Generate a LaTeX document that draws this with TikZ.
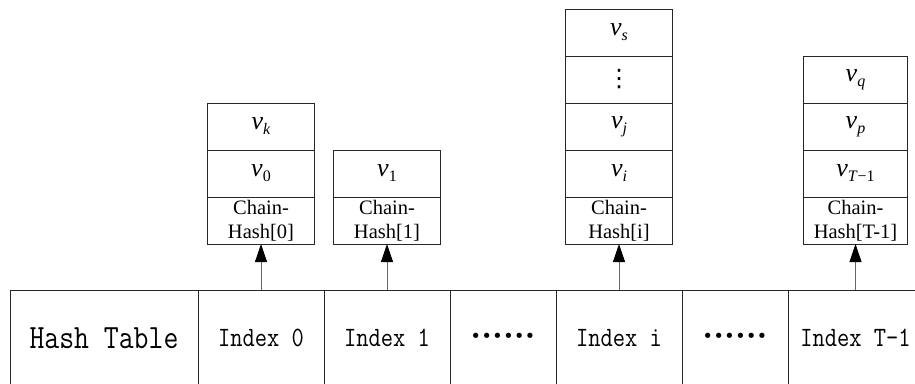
\documentclass[tikz,border=0pt]{standalone}
\usepackage{fontspec}
\setmainfont{Liberation Serif}
\newfontfamily\tabfont[FakeStretch=0.85]{Latin Modern Mono}
\newfontfamily\dotfont{DejaVu Sans Mono}
\newfontfamily\symfont{DejaVu Sans}
\usetikzlibrary{positioning}
\usetikzlibrary{arrows.meta}

\newcommand{\vsub}[1]{\textit{v}\raisebox{-5pt}{\fontsize{16}{16}\selectfont #1}}

\begin{document}
\begin{tikzpicture}[x=1pt,y=-1pt,line width=0.8pt,
	cell/.style={rectangle, draw=black!85, minimum height=96pt, inner sep=0pt, outer sep=0pt, font=\tabfont\fontsize{28}{28}\selectfont},
	gap/.style={cell, minimum width=106pt, font=\dotfont\fontsize{18}{18}\selectfont},
	link/.style={rectangle, draw=black!85, minimum width=107pt, minimum height=47pt, inner sep=0pt, outer sep=0pt, font=\fontsize{26}{26}\selectfont},
	head/.style={link, align=center, font=\fontsize{20.5}{24}\selectfont},
	up/.style={-{Triangle[length=18pt,width=12pt,color=black]}, draw=black!60}]
	
	\useasboundingbox (0,0) rectangle (915,383);
	
	% table row
	\node[cell, minimum width=188pt, font=\tabfont\fontsize{34}{34}\selectfont] (t) at (104,338) {Hash Table};
	\node[cell, minimum width=126pt] (i0) [right=0pt of t] {Index 0};
	\node[cell, minimum width=126pt] (i1) [right=0pt of i0] {Index 1};
	\node[gap] (d1) [right=0pt of i1] {••••••};
	\node[cell, minimum width=126pt] (ii) [right=0pt of d1] {Index i};
	\node[gap] (d2) [right=0pt of ii] {••••••};
	\node[cell, minimum width=135pt] (iT) [right=0pt of d2] {Index T-1};
	
	% chain 0
	\node[head] (c0) [above=46pt of i0] {Chain-\\Hash[0]};
	\node[link] (a0) [above=0pt of c0] {\vsub{0}};
	\node[link] (b0) [above=0pt of a0] {\vsub{\textit{k}}};
	
	% chain 1
	\node[head] (c1) [above=46pt of i1] {Chain-\\Hash[1]};
	\node[link] (a1) [above=0pt of c1] {\vsub{1}};
	
	% chain i
	\node[head] (ci) [above=46pt of ii] {Chain-\\Hash[i]};
	\node[link] (ai) [above=0pt of ci] {\vsub{\textit{i}}};
	\node[link] (bi) [above=0pt of ai] {\vsub{\textit{j}}};
	\node[link, font=\symfont\fontsize{24}{24}\selectfont] (di) [above=0pt of bi] {⋮};
	\node[link] (ei) [above=0pt of di] {\vsub{\textit{s}}};
	
	% chain T-1
	\node[head, minimum width=104pt] (cT) [above=46pt of iT] {Chain-\\Hash[T-1]};
	\node[link, minimum width=104pt] (aT) [above=0pt of cT] {\vsub{\textit{T}−1}};
	\node[link, minimum width=104pt] (bT) [above=0pt of aT] {\vsub{\textit{p}}};
	\node[link, minimum width=104pt] (eT) [above=0pt of bT] {\vsub{\textit{q}}};
	
	\draw[up] (i0) -- (c0);
	\draw[up] (i1) -- (c1);
	\draw[up] (ii) -- (ci);
	\draw[up] (iT.north -| cT.south) -- (cT);
	
\end{tikzpicture}
\end{document}
